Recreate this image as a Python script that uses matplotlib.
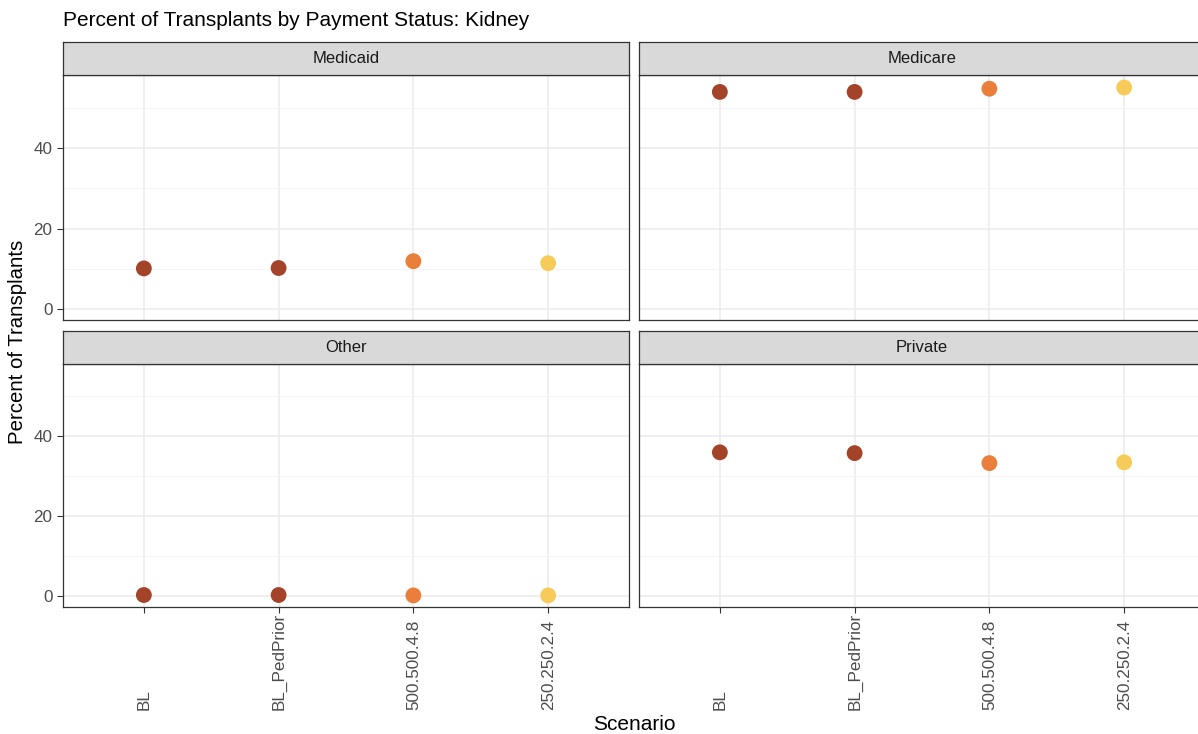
import matplotlib.pyplot as plt

plt.rcParams['font.family'] = ['Liberation Sans', 'DejaVu Sans']

scenarios = ['BL', 'BL_PedPrior', '500.500.4.8', '250.250.2.4']
colors = ['#A3432A', '#A3432A', '#EA7F3C', '#F6CB5A']
panels = ['Medicaid', 'Medicare', 'Other', 'Private']

medicaid = [10.1, 10.2, 11.9, 11.4]
medicare = [53.9, 53.9, 54.7, 55.0]
other = [0.3, 0.3, 0.2, 0.2]
private = [36.0, 35.8, 33.3, 33.5]
values = [medicaid, medicare, other, private]

W, H = 1198, 734
fig = plt.figure(figsize=(W / 100, H / 100), dpi=100)

# panel boxes in pixels: (left, top, right, bottom)
boxes = [(63, 75, 629, 320), (639, 75, 1205, 320),
         (63, 364, 629, 607), (639, 364, 1205, 607)]
strip_h = 33

for i, (l, t, r, b) in enumerate(boxes):
    ax = fig.add_axes([l / W, 1 - b / H, (r - l) / W, (b - t) / H])
    x = list(range(1, len(scenarios) + 1))
    ax.scatter(x, values[i], c=colors, s=130, zorder=3, linewidths=0)
    ax.set_xlim(0.4, 4.6)
    ax.set_ylim(-2.7, 58.1)
    ax.set_yticks([0, 20, 40])
    ax.set_yticks([10, 30, 50], minor=True)
    ax.set_xticks(x)
    ax.grid(True, which='major', color='#EBEBEB', lw=1.1, zorder=0)
    ax.grid(True, which='minor', axis='y', color='#F3F3F3', lw=0.6, zorder=0)
    ax.set_axisbelow(True)
    for s in ax.spines.values():
        s.set_color('#333333')
        s.set_linewidth(0.9)
    ax.tick_params(which='minor', length=0)
    ax.tick_params(axis='both', colors='#333333', labelcolor='#4D4D4D', labelsize=12.3, length=4, width=0.8)
    if i % 2 == 1:
        ax.tick_params(axis='y', labelleft=False, length=0)
    if i < 2:
        ax.tick_params(axis='x', labelbottom=False, length=0)
    else:
        ax.set_xticklabels(scenarios, rotation=90, rotation_mode='anchor',
                           ha='left', va='center')
        ax.tick_params(axis='x', pad=70)
    # strip on top
    sax = fig.add_axes([l / W, 1 - t / H, (r - l) / W, strip_h / H])
    sax.set_xticks([])
    sax.set_yticks([])
    sax.set_facecolor('#D9D9D9')
    for s in sax.spines.values():
        s.set_color('#333333')
        s.set_linewidth(0.9)
    sax.text(0.5, 0.5, panels[i], ha='center', va='center', fontsize=12,
             color='#1A1A1A', transform=sax.transAxes)

fig.text(63 / W, 1 - 20 / H, 'Percent of Transplants by Payment Status: Kidney',
         ha='left', va='center', fontsize=15, color='black')
fig.text(18 / W, 1 - 342 / H, 'Percent of Transplants', rotation=90,
         ha='center', va='center', fontsize=14.7)
fig.text(634 / W, 1 - 724 / H, 'Scenario', ha='center', va='center', fontsize=15)

fig.savefig('out.png', dpi=100)
